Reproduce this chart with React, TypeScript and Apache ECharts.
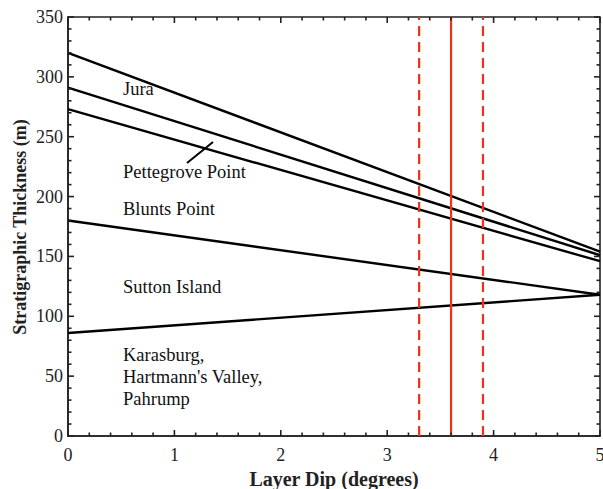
import React, { useEffect, useRef } from "react";
import * as echarts from "echarts";

const dipRange = [0, 5];
const boundaryNames = ["Top Jura", "Jura/Pettegrove", "Pettegrove/Blunts", "Blunts/Sutton", "Sutton/Karasburg"];
const thicknessAtZero = [320, 291, 273, 180, 86];
const thicknessAtFive = [154, 151, 146, 118, 118];
const dipEstimate = 3.6;
const dipBounds = [3.3, 3.9];
const xMajorTicks = [0, 1, 2, 3, 4, 5];
const xMinorTicks = [0.2, 0.4, 0.6, 0.8, 1.2, 1.4, 1.6, 1.8, 2.2, 2.4, 2.6, 2.8, 3.2, 3.4, 3.6, 3.8, 4.2, 4.4, 4.6, 4.8];
const yMajorTicks = [0, 50, 100, 150, 200, 250, 300, 350];
const yMinorTicks = [
  10, 20, 30, 40, 60, 70, 80, 90, 110, 120, 130, 140, 160, 170, 180, 190,
  210, 220, 230, 240, 260, 270, 280, 290, 310, 320, 330, 340,
];
const unitLabels = [
  { text: "Jura", x: 123, y: 89 },
  { text: "Pettegrove Point", x: 123, y: 172 },
  { text: "Blunts Point", x: 123, y: 209 },
  { text: "Sutton Island", x: 123, y: 287 },
  { text: "Karasburg,\nHartmann's Valley,\nPahrump", x: 123, y: 377 },
];

const FONT = "Liberation Serif, Times New Roman, serif";
const RED = "#f2301c";
const AX = "#222";
const MAJOR_LEN = 6;
const MINOR_LEN = 3.5;
const TICK_W = 1.6;

function tickSeries(name: string, data: number[][], size: number[], offset: number[]) {
  return {
    name,
    type: "scatter",
    data,
    symbol: "rect",
    symbolSize: size,
    symbolOffset: offset,
    itemStyle: { color: AX, opacity: 1 },
    silent: true,
    clip: false,
    z: 6,
    emphasis: { disabled: true },
  };
}

export default function App() {
  const ref = useRef<HTMLDivElement>(null);
  useEffect(() => {
    if (!ref.current) return;
    const chart = echarts.init(ref.current, undefined, { renderer: "svg" });
    const series: any[] = boundaryNames.map((name, i) => ({
      name,
      type: "line",
      data: [
        [dipRange[0], thicknessAtZero[i]],
        [dipRange[1], thicknessAtFive[i]],
      ],
      symbol: "none",
      lineStyle: { color: "#000", width: 2.4 },
      z: 3,
    }));
    series.push({
      name: "dip",
      type: "line",
      data: [
        [dipEstimate, 0],
        [dipEstimate, 350],
      ],
      symbol: "none",
      lineStyle: { color: RED, width: 2.2 },
      z: 4,
    });
    dipBounds.forEach((d, i) => {
      series.push({
        name: "dipBound" + i,
        type: "line",
        data: [
          [d, 0],
          [d, 350],
        ],
        symbol: "none",
        lineStyle: { color: RED, width: 2.2, type: [10, 6] },
        z: 4,
      });
    });
    // inward tick marks on all four sides, as thin rectangles placed by the axes' scales
    series.push(
      tickSeries("xMajorBottom", xMajorTicks.map((v) => [v, 0]), [TICK_W, MAJOR_LEN], [0, -MAJOR_LEN / 2]),
      tickSeries("xMinorBottom", xMinorTicks.map((v) => [v, 0]), [TICK_W, MINOR_LEN], [0, -MINOR_LEN / 2]),
      tickSeries("xMajorTop", xMajorTicks.map((v) => [v, 350]), [TICK_W, MAJOR_LEN], [0, MAJOR_LEN / 2]),
      tickSeries("xMinorTop", xMinorTicks.map((v) => [v, 350]), [TICK_W, MINOR_LEN], [0, MINOR_LEN / 2]),
      tickSeries("yMajorLeft", yMajorTicks.map((v) => [0, v]), [MAJOR_LEN, TICK_W], [MAJOR_LEN / 2, 0]),
      tickSeries("yMinorLeft", yMinorTicks.map((v) => [0, v]), [MINOR_LEN, TICK_W], [MINOR_LEN / 2, 0]),
      tickSeries("yMajorRight", yMajorTicks.map((v) => [5, v]), [MAJOR_LEN, TICK_W], [-MAJOR_LEN / 2, 0]),
      tickSeries("yMinorRight", yMinorTicks.map((v) => [5, v]), [MINOR_LEN, TICK_W], [-MINOR_LEN / 2, 0])
    );
    chart.setOption({
      animation: false,
      grid: {
        left: 68,
        right: 3,
        top: 17,
        bottom: 53,
        containLabel: false,
        outerBoundsMode: "none",
        show: true,
        borderColor: AX,
        borderWidth: 1.6,
        backgroundColor: "transparent",
      },
      xAxis: {
        type: "value",
        min: 0,
        max: 5,
        interval: 1,
        position: "bottom",
        axisLine: { show: true, onZero: false, lineStyle: { color: AX, width: 1.6 } },
        axisTick: { show: false },
        minorTick: { show: false },
        splitLine: { show: false },
        name: "Layer Dip (degrees)",
        nameLocation: "middle",
        nameGap: 33,
        nameTextStyle: { fontFamily: FONT, fontWeight: "bold", fontSize: 20, color: "#222" },
        axisLabel: { fontFamily: FONT, fontSize: 18, color: "#222", margin: 10 },
      },
      yAxis: {
        type: "value",
        min: 0,
        max: 350,
        interval: 50,
        position: "left",
        axisLine: { show: true, onZero: false, lineStyle: { color: AX, width: 1.6 } },
        axisTick: { show: false },
        minorTick: { show: false },
        splitLine: { show: false },
        axisLabel: { fontFamily: FONT, fontSize: 18, color: "#222", margin: 5 },
      },
      graphic: [
        {
          type: "text",
          x: 20,
          y: 227,
          rotation: Math.PI / 2,
          style: {
            text: "Stratigraphic Thickness (m)",
            fontFamily: FONT,
            fontWeight: "bold",
            fontSize: 18,
            fill: "#222",
            align: "center",
            verticalAlign: "middle",
          },
        },
        ...unitLabels.map((l) => ({
          type: "text",
          x: l.x,
          y: l.y,
          style: {
            text: l.text,
            fontFamily: FONT,
            fontSize: 18.5,
            fill: "#111",
            verticalAlign: "middle",
            lineHeight: 22,
          },
          z: 10,
        })),
        {
          type: "line",
          shape: { x1: 187, y1: 163, x2: 213, y2: 142 },
          style: { stroke: "#000", lineWidth: 2 },
          z: 10,
        },
      ],
      series,
    });
    return () => chart.dispose();
  }, []);
  return (
    <div
      ref={ref}
      style={{ position: "fixed", left: 0, top: 0, width: 603, height: 489, background: "#fff" }}
    />
  );
}
